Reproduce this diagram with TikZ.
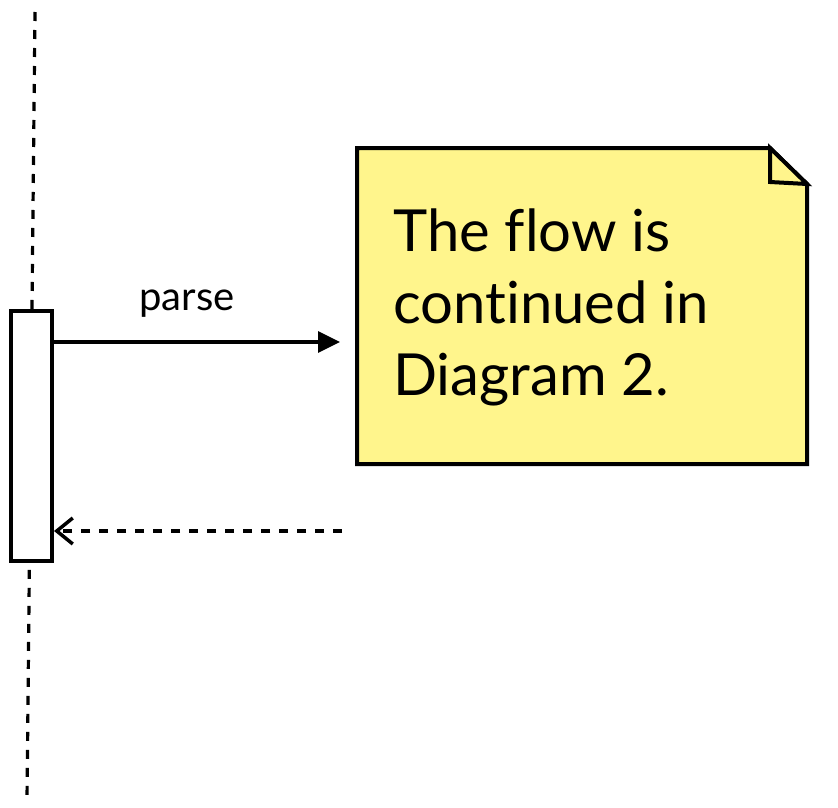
\documentclass[tikz,border=0pt]{standalone}
\usepackage{fontspec}
\setmainfont{Lato}[Ligatures=NoCommon]
\usetikzlibrary{arrows.meta}
\definecolor{notey}{RGB}{255,245,140}
\tikzset{
  lw/.style={line width=4pt},
  lifeline/.style={line width=3.2pt, dash pattern=on 9pt off 9pt},
  msg/.style={line width=3.5pt, -{Triangle[length=22pt,width=21pt]}},
  ret/.style={line width=3.5pt, dash pattern=on 9pt off 9pt, -{Straight Barb[length=16pt,width=26pt,line width=3.5pt]}},
}
\begin{document}
\begin{tikzpicture}[x=1pt,y=-1pt]
\useasboundingbox (0,0) rectangle (838,808);
% lifeline
\coordinate (lt) at (35,12);
\coordinate (lb) at (27,800);
\draw[lifeline] (lt) -- (lb);
% activation
\node[draw, lw, fill=white, minimum width=41pt, minimum height=250pt, inner sep=0pt] (act) at (31.5,436) {};
% note
\coordinate (n1) at (357,148);
\coordinate (n2) at (770,148);
\coordinate (n3) at (807,184);
\coordinate (n4) at (807,464);
\coordinate (n5) at (357,464);
\coordinate (f1) at (770,182);
\draw[lw, fill=notey, line join=miter] (n1) -- (n2) -- (n3) -- (n4) -- (n5) -- cycle;
\draw[lw, fill=notey] (n2) -- (f1) -- (n3) -- cycle;
\node[anchor=north west, align=left, font=\fontsize{58}{72}\selectfont, inner sep=0pt] (txt) at (393,209) {The flow is\\continued in\\Diagram 2.};
% messages
\coordinate (m1e) at (340,342);
\draw[msg] (act.east |- m1e) -- (m1e);
\node[anchor=base, font=\fontsize{40}{44}\selectfont, inner sep=0pt] (lbl) at (187,310) {parse};
\coordinate (m2s) at (342,531);
\draw[ret] (m2s) -- (act.east |- m2s);
\end{tikzpicture}
\end{document}
